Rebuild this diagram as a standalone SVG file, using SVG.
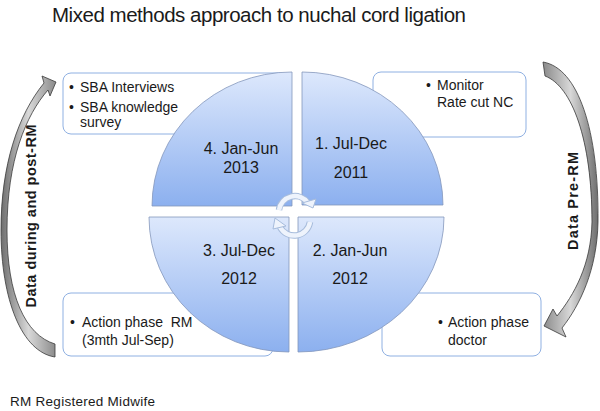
<svg xmlns="http://www.w3.org/2000/svg" width="600" height="411" viewBox="0 0 600 411">
<defs>
<linearGradient id="gq" x1="0" y1="0" x2="0" y2="1">
<stop offset="0" stop-color="#dde8fc"/>
<stop offset="1" stop-color="#8cb0ef"/>
</linearGradient>
<linearGradient id="ga" x1="0" y1="0" x2="1" y2="0">
<stop offset="0" stop-color="#6e6e6e"/>
<stop offset="0.5" stop-color="#d8d8d8"/>
<stop offset="1" stop-color="#8a8a8a"/>
</linearGradient>
<linearGradient id="gb" x1="0" y1="0" x2="1" y2="0">
<stop offset="0" stop-color="#8a8a8a"/>
<stop offset="0.5" stop-color="#d8d8d8"/>
<stop offset="1" stop-color="#6e6e6e"/>
</linearGradient>
<style>
text{font-family:"Liberation Sans",Arial,sans-serif;fill:#1a1a1a}
.box{fill:#ffffff;stroke:#8fb0e2;stroke-width:1}
.q{fill:url(#gq);stroke:#8497bb;stroke-width:0.8}
.ql{font-size:16px;text-anchor:middle}
.bt{font-size:14px}
.side{font-size:14.5px;font-weight:bold;text-anchor:middle}
.ring{fill:none;stroke:#a7bcdc;stroke-width:6.5}
.ringin{fill:none;stroke:#eef3fc;stroke-width:4.5}
.head{fill:#eef3fc;stroke:#a7bcdc;stroke-width:1}
</style>
</defs>
<rect width="600" height="411" fill="#ffffff"/>
<text x="259" y="22" style="font-size:20.5px;text-anchor:middle" textLength="414">Mixed methods approach to nuchal cord ligation</text>

<g id="box-tl">
<rect class="box" x="63" y="73" width="224" height="61" rx="8"/>
<text class="bt" x="69" y="92">•</text>
<text class="bt" x="80" y="92">SBA Interviews</text>
<text class="bt" x="69" y="112">•</text>
<text class="bt" x="80" y="112">SBA knowledge</text>
<text class="bt" x="80" y="127">survey</text>
</g>
<g id="box-tr">
<rect class="box" x="373" y="72" width="153" height="65" rx="8"/>
<text class="bt" x="426" y="90">•</text>
<text class="bt" x="437" y="90">Monitor</text>
<text class="bt" x="437" y="107">Rate cut NC</text>
</g>
<g id="box-bl">
<rect class="box" x="63" y="293" width="210" height="63" rx="8"/>
<text class="bt" x="70" y="327">•</text>
<text class="bt" x="82" y="327" xml:space="preserve">Action phase  RM</text>
<text class="bt" x="82" y="345">(3mth Jul-Sep)</text>
</g>
<g id="box-br">
<rect class="box" x="382" y="293" width="159" height="63" rx="8"/>
<text class="bt" x="438" y="327">•</text>
<text class="bt" x="448" y="327">Action phase</text>
<text class="bt" x="448" y="345">doctor</text>
</g>

<g id="q4">
<path class="q" d="M292 206 L152 206 A140 134 0 0 1 292 72 Z"/>
<text class="ql" x="241" y="154">4. Jan-Jun</text>
<text class="ql" x="241" y="173">2013</text>
</g>
<g id="q1">
<path class="q" d="M302 205 L302 72 A141 133 0 0 1 443 205 Z"/>
<text class="ql" x="351" y="149">1. Jul-Dec</text>
<text class="ql" x="351" y="178">2011</text>
</g>
<g id="q3">
<path class="q" d="M289 217 L289 352 A140 135 0 0 1 149 217 Z"/>
<text class="ql" x="239" y="256">3. Jul-Dec</text>
<text class="ql" x="239" y="284">2012</text>
</g>
<g id="q2">
<path class="q" d="M298 217 L444 217 A146 135 0 0 1 298 352 Z"/>
<text class="ql" x="350" y="256">2. Jan-Jun</text>
<text class="ql" x="350" y="284">2012</text>
</g>

<g id="cycle">
<path class="ring" d="M279 210 A16 16 0 0 1 308 203"/>
<path class="ringin" d="M279 210 A16 16 0 0 1 308 203"/>
<polygon class="head" points="302,203 316,199 313,208"/>
<path class="ring" d="M310 222 A16 16 0 0 1 280 227"/>
<path class="ringin" d="M310 222 A16 16 0 0 1 280 227"/>
<polygon class="head" points="273,229 286,226 275,218"/>
</g>

<g id="connectors">
<path fill="url(#ga)" stroke="#3a3a3a" stroke-width="0.8" d="M55 357 C22 352 1 300 1 230 C1 165 18 115 44 83 L42 76 L56 82 L50 96 L48 90 C26 115 7 160 7 230 C7 295 25 335 55 344 Z"/>
<path fill="url(#gb)" stroke="#3a3a3a" stroke-width="0.8" d="M543 62 C578 68 599 130 598 222 C597 270 580 305 562 328 L566 337 L544 326 L553 309 L557 316 C574 295 591 265 592 222 C592 140 572 86 545 76 Z"/>
</g>
<text class="side" transform="translate(36,216) rotate(-90)" textLength="183">Data during and post-RM</text>
<text class="side" transform="translate(578,201) rotate(-90)" textLength="98">Data Pre-RM</text>

<text x="10" y="406" style="font-size:13.5px" textLength="145">RM Registered Midwife</text>
</svg>
